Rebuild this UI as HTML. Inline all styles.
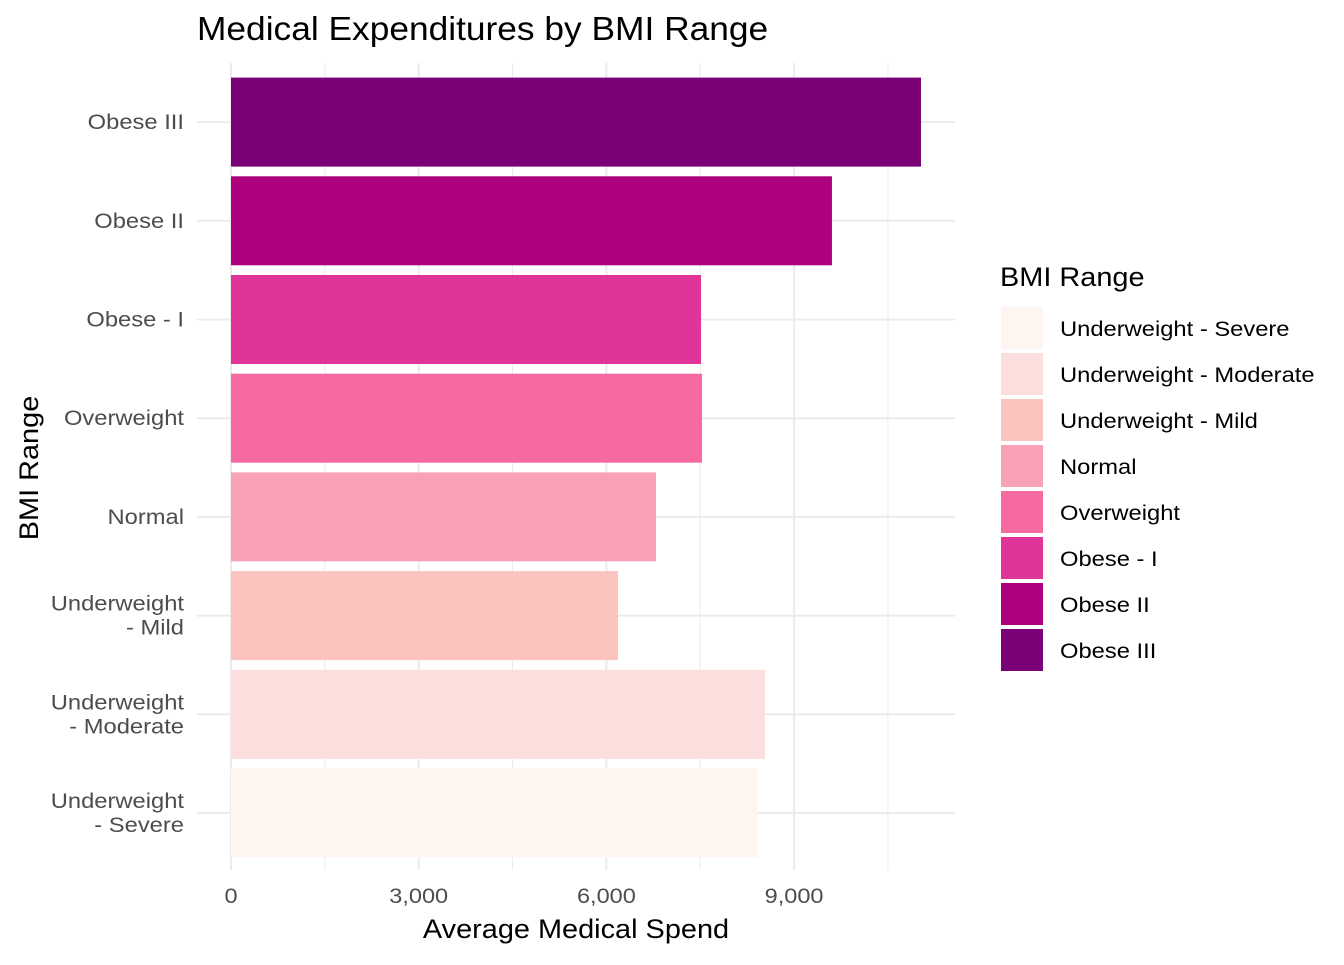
<!DOCTYPE html>
<html><head><meta charset="utf-8"><style>
body{margin:0;background:#fff;font-family:"Liberation Sans",sans-serif;}
</style></head><body>
<svg id="chart" width="1344" height="960" xmlns="http://www.w3.org/2000/svg">
<text id="title" x="197" y="40" font-size="33" fill="#000">Medical Expenditures by BMI Range</text>
<g id="grid"></g>
<g id="bars"></g>
<g id="ylabels"></g>
<g id="xlabels"></g>
<text id="xtitle" x="576" y="938" font-size="27" text-anchor="middle" fill="#000">Average Medical Spend</text>
<text id="ytitle" transform="translate(38,468) rotate(-90)" font-size="27" text-anchor="middle" fill="#000">BMI Range</text>
<text id="ltitle" x="1000" y="286" font-size="27" fill="#000">BMI Range</text>
<g id="legend"></g>
</svg>
<script>
const categories=["Underweight - Severe","Underweight - Moderate","Underweight - Mild","Normal","Overweight","Obese - I","Obese II","Obese III"];
const labelLines=[["Underweight","- Severe"],["Underweight","- Moderate"],["Underweight","- Mild"],["Normal"],["Overweight"],["Obese - I"],["Obese II"],["Obese III"]];
const values=[8423,8534,6185,6792,7528,7512,9605,11028];
const colors=["#fff5f0","#fcdedc","#fbc4bf","#f9a1b6","#f769a1","#df3598","#ae017e","#7a0177"];
const xTicks=[0,3000,6000,9000];
const xTickLabels=["0","3,000","6,000","9,000"];
const NS="http://www.w3.org/2000/svg";
const x0=231,pxPer=187.7/3000;
const xs=v=>x0+v*pxPer;
const ys=i=>813-i*98.7;
function el(tag,attrs,parent){const e=document.createElementNS(NS,tag);for(const k in attrs)e.setAttribute(k,attrs[k]);parent.appendChild(e);return e;}
function stretch(t,r){const w=t.getComputedTextLength();t.setAttribute('textLength',w*r);t.setAttribute('lengthAdjust','spacingAndGlyphs');}
const grid=document.getElementById('grid');
for(let i=0;i<xTicks.length;i++){
 const x=xs(xTicks[i]);
 const l=el('line',{x1:x,x2:x,y1:63,y2:870,stroke:'#ebebeb','stroke-width':2},grid);
 
 
 const xm=xs(xTicks[i]+1500);
 const m=el('line',{x1:xm,x2:xm,y1:63,y2:870,stroke:'#ebebeb','stroke-width':1},grid);
 
 
 const t=el('text',{x:x,y:903,'font-size':21,'text-anchor':'middle',fill:'#4d4d4d'},document.getElementById('xlabels'));
 t.textContent=xTickLabels[i];
 
 
 stretch(t,1.12);
}
for(let i=0;i<categories.length;i++){
 const y=ys(i);
 const g=el('line',{x1:197,x2:955,y1:y,y2:y,stroke:'#ebebeb','stroke-width':2},grid);
 
 
 const b=el('rect',{x:x0,y:y-44.5,width:xs(values[i])-x0,height:89,fill:colors[i]},document.getElementById('bars'));
 
 
 const lines=labelLines[i];
 lines.forEach((s,j)=>{
  const t=el('text',{x:184,y:y+7+(j-(lines.length-1)/2)*24,'font-size':21,'text-anchor':'end',fill:'#4d4d4d'},document.getElementById('ylabels'));
  t.textContent=s;
  
  
  stretch(t,1.13);
 });
 const ly=307+i*46;
 const k=el('rect',{x:1001,y:ly,width:42,height:42,fill:colors[i]},document.getElementById('legend'));
 
 
 const lt=el('text',{x:1060,y:ly+29,'font-size':21,fill:'#000'},document.getElementById('legend'));
 lt.textContent=categories[i];
 
 
 stretch(lt,1.13);
}
stretch(document.getElementById('title'),1.07);
stretch(document.getElementById('xtitle'),1.07);
stretch(document.getElementById('ytitle'),1.07);
stretch(document.getElementById('ltitle'),1.07);
</script>
</body></html>
